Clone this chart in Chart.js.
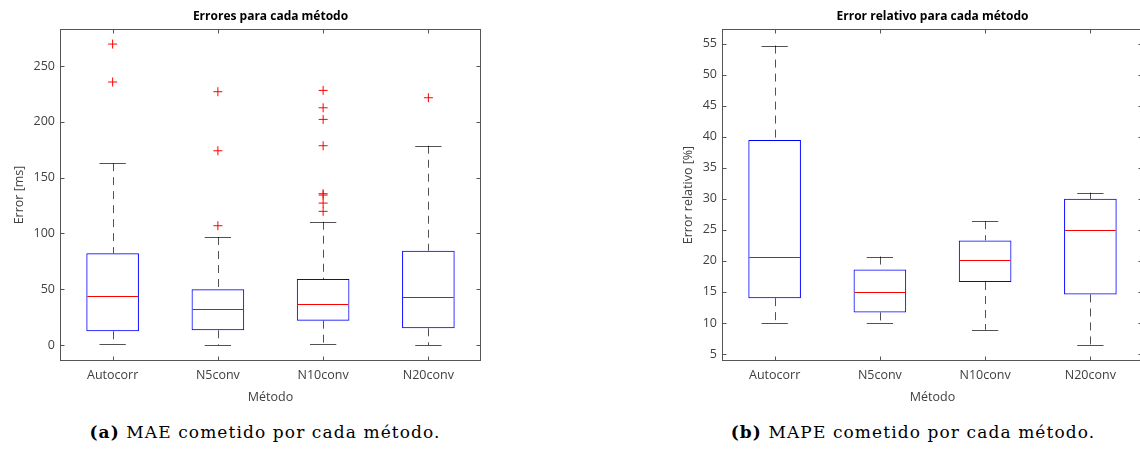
<!doctype html>
<html>
	<head>
		<meta charset="utf-8">
		<title>Errores por método</title>
		<script src="https://cdn.jsdelivr.net/npm/chart.js@4"></script>
		<style>
			html, body { margin: 0; padding: 0; background: #fff; overflow: hidden; }
			body { width: 1140px; height: 450px; position: relative; }
			.panel { position: absolute; top: 0; width: 560px; height: 406px; }
			.caption { position: absolute; top: 422px; width: 500px; text-align: center;
				font-family: "DejaVu Serif", serif; font-size: 17px; letter-spacing: 1.1px;
				color: #000; white-space: nowrap; }
			.caption b { font-weight: bold; }
		</style>
	</head>
	<body>
		<div class="panel" style="left:0"><canvas id="mae" width="560" height="406"></canvas></div>
		<div class="panel" style="left:662px"><canvas id="mape" width="560" height="406"></canvas></div>
		<div class="caption" style="left:15px"><b>(a)</b> MAE cometido por cada método.</div>
		<div class="caption" style="left:663px"><b>(b)</b> MAPE cometido por cada método.</div>

	<script>
	var metodos = ["Autocorr", "N5conv", "N10conv", "N20conv"];

	// MAE [ms]
	var maeBigoteInf = [1.2, 0, 1.2, 0];
	var maeQ1 = [12.3, 13.2, 21.8, 15];
	var maeMediana = [43.9, 32, 37, 43];
	var maeQ3 = [82.2, 49.9, 59.1, 84.5];
	var maeBigoteSup = [163, 96.8, 110.5, 178.6];
	var maeAtipicos = [
		[269.7, 235.7],
		[227, 174.1, 106.9],
		[228.2, 212.6, 202.2, 178.6, 135.6, 134.4, 127.2, 119.8],
		[221.6]
	];
	var maeTicks = [0, 50, 100, 150, 200, 250];

	// MAPE [%]
	var mapeBigoteInf = [10.0, 10.0, 8.9, 6.4];
	var mapeQ1 = [14.0, 11.7, 16.6, 14.6];
	var mapeMediana = [20.7, 15.05, 20.1, 25.0];
	var mapeQ3 = [39.5, 18.6, 23.3, 30.0];
	var mapeBigoteSup = [54.7, 20.7, 26.4, 31.0];
	var mapeAtipicos = [[], [], [], []];
	var mapeTicks = [5, 10, 15, 20, 25, 30, 35, 40, 45, 50, 55];

	var FUENTE = "'Open Sans', 'Noto Sans', sans-serif";
	var GRIS = "#404040";

	// bigotes, topes y medianas de cada caja
	var bigotesPlugin = {
		id: "bigotes",
		beforeDatasetsDraw: function(chart, args, opts){
			var ctx = chart.ctx, xs = chart.scales.x, ys = chart.scales.y;
			ctx.save();
			ctx.strokeStyle = "rgba(0,0,0,0.68)";
			ctx.lineWidth = 1;
			for (var i = 0; i < opts.inf.length; i++) {
				var x = Math.round(xs.getPixelForValue(i + 1)) + 0.5;
				ctx.setLineDash([8, 6]);
				ctx.beginPath();
				ctx.moveTo(x, ys.getPixelForValue(opts.sup[i]));
				ctx.lineTo(x, ys.getPixelForValue(opts.q3[i]));
				ctx.moveTo(x, ys.getPixelForValue(opts.q1[i]));
				ctx.lineTo(x, ys.getPixelForValue(opts.inf[i]));
				ctx.stroke();
				ctx.setLineDash([]);
				var x0 = xs.getPixelForValue(i + 1 - 0.125), x1 = xs.getPixelForValue(i + 1 + 0.125);
				var ySup = Math.round(ys.getPixelForValue(opts.sup[i])) + 0.5;
				var yInf = Math.round(ys.getPixelForValue(opts.inf[i])) + 0.5;
				ctx.beginPath();
				ctx.moveTo(x0, ySup); ctx.lineTo(x1, ySup);
				ctx.moveTo(x0, yInf); ctx.lineTo(x1, yInf);
				ctx.stroke();
			}
			ctx.restore();
		},
		afterDatasetsDraw: function(chart, args, opts){
			var ctx = chart.ctx, xs = chart.scales.x, ys = chart.scales.y;
			ctx.save();
			ctx.strokeStyle = "#ff0000";
			ctx.lineWidth = 1;
			for (var i = 0; i < opts.mediana.length; i++) {
				var y = Math.round(ys.getPixelForValue(opts.mediana[i])) + 0.5;
				ctx.beginPath();
				ctx.moveTo(xs.getPixelForValue(i + 1 - 0.25) + 1, y);
				ctx.lineTo(xs.getPixelForValue(i + 1 + 0.25) - 1, y);
				ctx.stroke();
			}
			ctx.restore();
		}
	};

	// marco de los ejes con marcas hacia dentro
	var marcoPlugin = {
		id: "marco",
		afterDraw: function(chart){
			var ctx = chart.ctx, a = chart.chartArea, xs = chart.scales.x, ys = chart.scales.y;
			var l = Math.round(a.left) + 0.5, r = Math.round(a.right) - 0.5;
			var t = Math.round(a.top) + 0.5, b = Math.round(a.bottom) - 0.5;
			ctx.save();
			ctx.strokeStyle = "#555555";
			ctx.lineWidth = 1;
			ctx.strokeRect(l, t, r - l, b - t);
			ctx.beginPath();
			ys.ticks.forEach(function(tk){
				var y = Math.round(ys.getPixelForValue(tk.value)) + 0.5;
				ctx.moveTo(l, y); ctx.lineTo(l + 4, y);
				ctx.moveTo(r, y); ctx.lineTo(r - 4, y);
			});
			xs.ticks.forEach(function(tk){
				var x = Math.round(xs.getPixelForValue(tk.value)) + 0.5;
				ctx.moveTo(x, b); ctx.lineTo(x, b - 4);
				ctx.moveTo(x, t); ctx.lineTo(x, t + 4);
			});
			ctx.stroke();
			ctx.restore();
		}
	};

	function cajas(id, titulo, ejeY, q1, med, q3, inf, sup, atipicos, ticks, yMin, yMax, padTituloY){
		var puntos = [];
		atipicos.forEach(function(lista, i){
			lista.forEach(function(v){ puntos.push({x: i + 1, y: v}); });
		});
		return new Chart(document.getElementById(id), {
			type: "bar",
			data: {
				datasets: [
					{
						data: metodos.map(function(m, i){ return {x: i + 1, y: [q1[i], q3[i]]}; }),
						backgroundColor: "rgba(0,0,0,0)",
						borderColor: "#0000ff",
						borderWidth: 1,
						borderSkipped: false,
						barPercentage: 0.5,
						categoryPercentage: 1
					},
					{
						type: "scatter",
						data: puntos,
						pointStyle: "cross",
						pointRadius: 4.5,
						pointBorderColor: "#ff0000",
						pointBorderWidth: 1,
						pointHoverRadius: 4.5
					}
				]
			},
			options: {
				responsive: false,
				animation: false,
				devicePixelRatio: 1,
				events: [],
				layout: { padding: { left: 0, right: 79, top: 0, bottom: 0 } },
				plugins: {
					legend: { display: false },
					tooltip: { enabled: false },
					title: {
						display: true,
						text: titulo,
						fullSize: false,
						color: "#000",
						font: { family: FUENTE, size: 12, weight: "bold" },
						padding: { top: 9, bottom: 5.6 }
					},
					bigotes: { q1: q1, q3: q3, mediana: med, inf: inf, sup: sup }
				},
				scales: {
					x: {
						type: "linear",
						min: 0.5,
						max: 4.5,
						offset: false,
						grid: { display: false, drawTicks: false },
						border: { display: false },
						afterBuildTicks: function(s){ s.ticks = metodos.map(function(m, i){ return {value: i + 1}; }); },
						afterFit: function(s){ s.height = 45; },
						ticks: {
							autoSkip: false,
							maxRotation: 0,
							padding: 7,
							color: GRIS,
							font: { family: FUENTE, size: 12.5 },
							callback: function(v){ return metodos[v - 1]; }
						},
						title: {
							display: true,
							text: "Método",
							color: GRIS,
							font: { family: FUENTE, size: 12.5 },
							padding: { top: 0, bottom: 1.5 }
						}
					},
					y: {
						min: yMin,
						max: yMax,
						grid: { display: false, drawTicks: false },
						border: { display: false },
						afterBuildTicks: function(s){ s.ticks = ticks.map(function(v){ return {value: v}; }); },
						afterFit: function(s){ s.width = 60; },
						ticks: {
							padding: 5,
							color: GRIS,
							font: { family: FUENTE, size: 12.5 }
						},
						title: {
							display: true,
							text: ejeY,
							color: GRIS,
							font: { family: FUENTE, size: 12.5 },
							padding: { top: padTituloY, bottom: 0 }
						}
					}
				}
			},
			plugins: [bigotesPlugin, marcoPlugin]
		});
	}

	window.onload = function(){
		cajas("mae", "Errores para cada método", "Error [ms]",
			maeQ1, maeMediana, maeQ3, maeBigoteInf, maeBigoteSup, maeAtipicos, maeTicks, -14.3, 283.2, 11.5);
		cajas("mape", "Error relativo para cada método", "Error relativo [%]",
			mapeQ1, mapeMediana, mapeQ3, mapeBigoteInf, mapeBigoteSup, mapeAtipicos, mapeTicks, 3.87, 57.37, 18.5);
	};
	</script>
	</body>
</html>
